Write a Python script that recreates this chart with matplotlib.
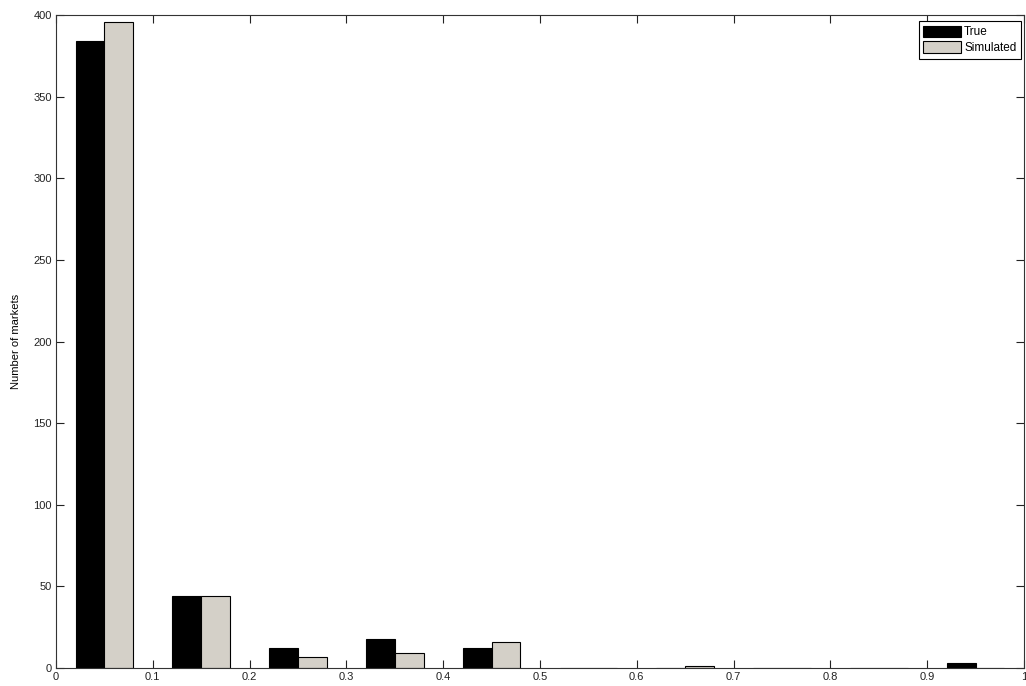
import matplotlib
matplotlib.use("Agg")
import matplotlib.pyplot as plt
import numpy as np

bin_centers = [0.05, 0.15, 0.25, 0.35, 0.45, 0.55, 0.65, 0.75, 0.85, 0.95]
true_counts = [384, 44, 12, 18, 12, 0, 0, 0, 0, 3]
sim_counts = [396, 44, 7, 9, 16, 0, 1, 0, 0, 0]
series_labels = ["True", "Simulated"]
x_ticks = [0, 0.1, 0.2, 0.3, 0.4, 0.5, 0.6, 0.7, 0.8, 0.9, 1]
x_tick_labels = ["0", "0.1", "0.2", "0.3", "0.4", "0.5", "0.6", "0.7", "0.8", "0.9", "1"]
y_ticks = [0, 50, 100, 150, 200, 250, 300, 350, 400]

plt.rcParams['font.family'] = ['Liberation Sans', 'DejaVu Sans']

fig = plt.figure(figsize=(10.26, 6.86), dpi=100)
ax = fig.add_axes([56/1026, 1 - 668/686, (1024-56)/1026, (668-15)/686])

w = 0.0297
xc = np.array(bin_centers)
ax.bar(xc - w/2, true_counts, width=w, color='black', edgecolor='black', linewidth=0.8, label=series_labels[0])
ax.bar(xc + w/2, sim_counts, width=w, color='#d4d0c8', edgecolor='black', linewidth=0.8, label=series_labels[1])

ax.set_xlim(0, 1)
ax.set_ylim(0, 400)
ax.set_xticks(x_ticks)
ax.set_xticklabels(x_tick_labels)
ax.set_yticks(y_ticks)
ax.tick_params(direction='in', top=True, right=True, length=6, width=0.8, labelsize=8, colors='#222222', pad=3)
for s in ax.spines.values():
    s.set_color('#333333')
    s.set_linewidth(0.8)
ax.set_ylabel("Number of markets", fontsize=8, labelpad=9)

leg = ax.legend(loc='upper right', fontsize=8.5, frameon=True, fancybox=False,
                edgecolor='black', framealpha=1, bbox_to_anchor=(1 - 3/968, 1 - 6/653),
                borderaxespad=0.0,
                handlelength=3.2, handleheight=1.1, borderpad=0.4, labelspacing=0.25, handletextpad=0.25)
leg.get_frame().set_linewidth(0.8)

fig.savefig("out.png", dpi=100)
